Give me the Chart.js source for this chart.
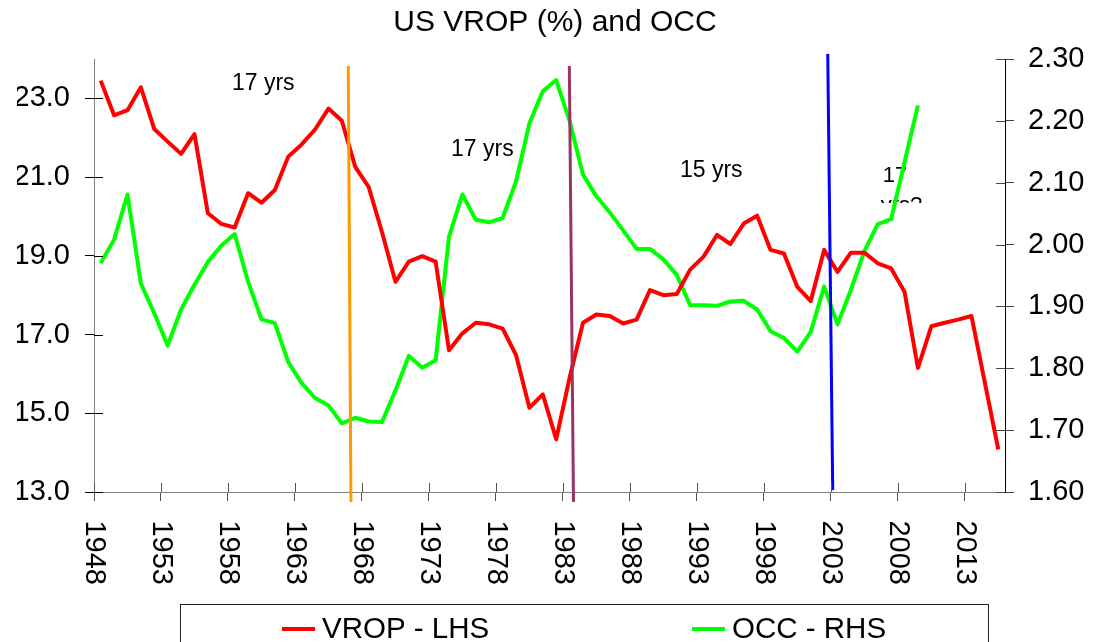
<!DOCTYPE html>
<html>
<head>
<meta charset="utf-8">
<script src="https://cdn.jsdelivr.net/npm/chart.js@4.4.1/dist/chart.umd.min.js"></script>
<style>
html,body{margin:0;padding:0;background:#fff;overflow:hidden}
canvas{display:block}
</style>
</head>
<body>
<canvas id="c" width="1093" height="642"></canvas>
<script>
// ---------- DATA ----------
const years = [1948,1949,1950,1951,1952,1953,1954,1955,1956,1957,1958,1959,1960,1961,1962,1963,1964,1965,1966,1967,
  1968,1969,1970,1971,1972,1973,1974,1975,1976,1977,1978,1979,1980,1981,1982,1983,1984,1985,1986,1987,
  1988,1989,1990,1991,1992,1993,1994,1995,1996,1997,1998,1999,2000,2001,2002,2003,2004,2005,2006,2007,
  2008,2009,2010,2011,2012,2013,2014,2015];

// VROP (%) - left axis
const vrop = [23.45,22.57,22.70,23.28,22.22,21.90,21.59,22.09,20.08,19.81,19.72,20.59,20.35,20.67,21.52,21.83,22.21,22.74,22.43,21.26,
  20.75,19.60,18.34,18.85,18.99,18.85,16.60,17.03,17.30,17.26,17.15,16.48,15.14,15.48,14.34,15.90,17.30,17.51,17.47,17.28,
  17.38,18.13,18.00,18.03,18.65,18.98,19.53,19.30,19.82,20.02,19.15,19.06,18.21,17.85,19.15,18.59,19.08,19.08,18.81,18.68,
  18.09,16.15,17.21,17.30,17.38,17.47,15.77,14.08];

// OCC - right axis (1948-2009)
const occ = [1.970,2.008,2.081,1.937,1.889,1.837,1.895,1.935,1.972,1.998,2.017,1.940,1.879,1.873,1.810,1.776,1.752,1.740,1.711,1.720,
  1.714,1.713,1.764,1.820,1.801,1.813,2.013,2.081,2.040,2.036,2.043,2.102,2.196,2.248,2.266,2.200,2.113,2.078,2.052,2.023,
  1.993,1.993,1.976,1.951,1.902,1.902,1.901,1.908,1.909,1.895,1.860,1.849,1.827,1.859,1.932,1.871,1.927,1.989,2.033,2.041,
  2.133,2.225];

// tick labels
const xTickLabels = ['1948','1953','1958','1963','1968','1973','1978','1983','1988','1993','1998','2003','2008','2013'];
const leftTickLabels = ['13.0','15.0','17.0','19.0','21.0','23.0'];
const rightTickLabels = ['1.60','1.70','1.80','1.90','2.00','2.10','2.20','2.30'];

// cycle marker lines (year, VROP-scale value) top and bottom ends
const markerOrange = [{x:1966.48, y:23.82},{x:1966.68, y:12.745}];
const markerPurple = [{x:1982.98, y:23.82},{x:1983.29, y:12.745}];
const markerBlue   = [{x:2002.27, y:24.13},{x:2002.64, y:13.05}];

const seriesNames = ['VROP - LHS','OCC - RHS'];
const titleText = 'US VROP (%) and OCC';

// ---------- RENDER ----------
const FONT = "'Liberation Sans', Arial, Helvetica, sans-serif";
Chart.defaults.font.family = FONT;
Chart.defaults.color = '#000';

const annotations = [
  {lines:['17 yrs'], year:1957.8, value:23.21, size:23},
  {lines:['17 yrs'], year:1974.15, value:21.54, size:23},
  {lines:['15 yrs'], year:1991.24, value:21.01, size:23},
  {lines:['17','yrs?'], year:2006.37, value:20.88, size:22, lineGap:30, clipValue:20.34}
];

const annoPlugin = {
  id:'anno',
  beforeDatasetsDraw(chart){
    const {ctx, scales:{x, y}} = chart;
    ctx.save();
    ctx.fillStyle = '#000';
    ctx.textAlign = 'left';
    ctx.textBaseline = 'alphabetic';
    annotations.forEach(a => {
      ctx.save();
      const px = x.getPixelForValue(a.year);
      const py = y.getPixelForValue(a.value);
      if (a.clipValue !== undefined) {
        const cy = y.getPixelForValue(a.clipValue);
        ctx.beginPath();
        ctx.rect(px - 20, py - 40, 90, cy - (py - 40));
        ctx.clip();
      }
      ctx.font = a.size + 'px ' + FONT;
      a.lines.forEach((t, i) => ctx.fillText(t, px - (i ? 2 : 0), py + i * (a.lineGap || 0)));
      ctx.restore();
    });
    ctx.restore();
  }
};

const tickPlugin = {
  id:'innerTicks',
  afterDraw(chart){
    const {ctx, chartArea:ca, scales} = chart;
    ctx.save();
    ctx.lineWidth = 1;
    ctx.strokeStyle = '#555';
    scales.x.ticks.forEach(t => {
      const px = Math.round(scales.x.getPixelForValue(t.value)) + 0.5;
      ctx.beginPath(); ctx.moveTo(px, ca.bottom - 9); ctx.lineTo(px, ca.bottom); ctx.stroke();
    });
    ctx.strokeStyle = '#000';
    scales.y.ticks.forEach(t => {
      const py = Math.round(scales.y.getPixelForValue(t.value)) + 0.5;
      ctx.beginPath(); ctx.moveTo(ca.left, py); ctx.lineTo(ca.left + 9, py); ctx.stroke();
    });
    ctx.strokeStyle = '#444';
    scales.y1.ticks.forEach(t => {
      const py = Math.round(scales.y1.getPixelForValue(t.value)) + 0.5;
      ctx.beginPath(); ctx.moveTo(ca.right - 9, py); ctx.lineTo(ca.right, py); ctx.stroke();
    });
    ctx.restore();
  }
};

const legendPlugin = {
  id:'boxLegend',
  afterDraw(chart){
    const {ctx} = chart;
    ctx.save();
    ctx.strokeStyle = '#222';
    ctx.lineWidth = 1;
    ctx.strokeRect(180.5, 604.5, 808, 60);
    const items = chart.data.datasets.filter(d => !d.isMarker);
    const starts = [282, 692];
    ctx.font = '29.5px ' + FONT;
    ctx.textBaseline = 'middle';
    ctx.textAlign = 'left';
    items.forEach((d, i) => {
      ctx.strokeStyle = d.borderColor;
      ctx.lineWidth = 4;
      ctx.beginPath(); ctx.moveTo(starts[i], 629); ctx.lineTo(starts[i] + 33, 629); ctx.stroke();
      ctx.fillStyle = '#000';
      ctx.fillText(d.label, starts[i] + 40, 630);
    });
    ctx.restore();
  }
};

const markerStyle = {borderWidth:3, pointRadius:0, tension:0, clip:false, yAxisID:'y', isMarker:true, fill:false};

new Chart(document.getElementById('c'), {
  type:'line',
  data:{
    datasets:[
      Object.assign({label:'m1', data:markerOrange, borderColor:'#FF9900'}, markerStyle),
      Object.assign({label:'m2', data:markerPurple, borderColor:'#993366'}, markerStyle),
      Object.assign({label:'m3', data:markerBlue, borderColor:'#0000FF'}, markerStyle),
      {label:seriesNames[0], data:years.map((yr,i)=>({x:yr, y:vrop[i]})), borderColor:'#FF0000', borderWidth:4,
       pointRadius:0, tension:0, yAxisID:'y', borderJoinStyle:'round', fill:false},
      {label:seriesNames[1], data:occ.map((v,i)=>({x:years[i], y:v})), borderColor:'#00FF00', borderWidth:4,
       pointRadius:0, tension:0, yAxisID:'y1', borderJoinStyle:'round', fill:false}
    ]
  },
  options:{
    responsive:false,
    animation:false,
    devicePixelRatio:1,
    events:[],
    layout:{padding:{left:17, right:0, top:0, bottom:0}},
    plugins:{
      legend:{display:false},
      tooltip:{enabled:false},
      title:{display:true, text:titleText, color:'#000', font:{size:30, weight:'normal'}, padding:{top:4.8, bottom:18.2}}
    },
    scales:{
      x:{
        type:'linear', min:1947.5, max:2015.5,
        afterBuildTicks:s => { s.ticks = xTickLabels.map(l => ({value: Number(l) - 0.5})); },
        ticks:{autoSkip:false, minRotation:-90, maxRotation:-90, padding:84, font:{size:29}, color:'#000',
               callback:(v,i) => xTickLabels[i]},
        grid:{drawOnChartArea:false, drawTicks:true, tickLength:9, color:'#555', lineWidth:1},
        border:{display:true, color:'#808080', width:1},
        afterFit:s => { s.height = 150; }
      },
      y:{
        position:'left', min:13, max:24,
        afterBuildTicks:s => { s.ticks = leftTickLabels.map(l => ({value: Number(l)})); },
        ticks:{autoSkip:false, padding:15, font:{size:29}, color:'#000', callback:(v,i) => leftTickLabels[i]},
        grid:{drawOnChartArea:false, drawTicks:true, tickLength:9, color:'#000', lineWidth:1},
        border:{display:true, color:'#808080', width:1},
        afterFit:s => { s.width = 77; }
      },
      y1:{
        position:'right', min:1.6, max:2.3,
        afterBuildTicks:s => { s.ticks = rightTickLabels.map(l => ({value: Number(l)})); },
        ticks:{autoSkip:false, padding:14, font:{size:29}, color:'#000', callback:(v,i) => rightTickLabels[i]},
        grid:{drawOnChartArea:false, drawTicks:true, tickLength:9, color:'#444', lineWidth:1},
        border:{display:true, color:'#000', width:1},
        afterFit:s => { s.width = 88; }
      }
    }
  },
  plugins:[annoPlugin, tickPlugin, legendPlugin]
});
</script>
</body>
</html>
